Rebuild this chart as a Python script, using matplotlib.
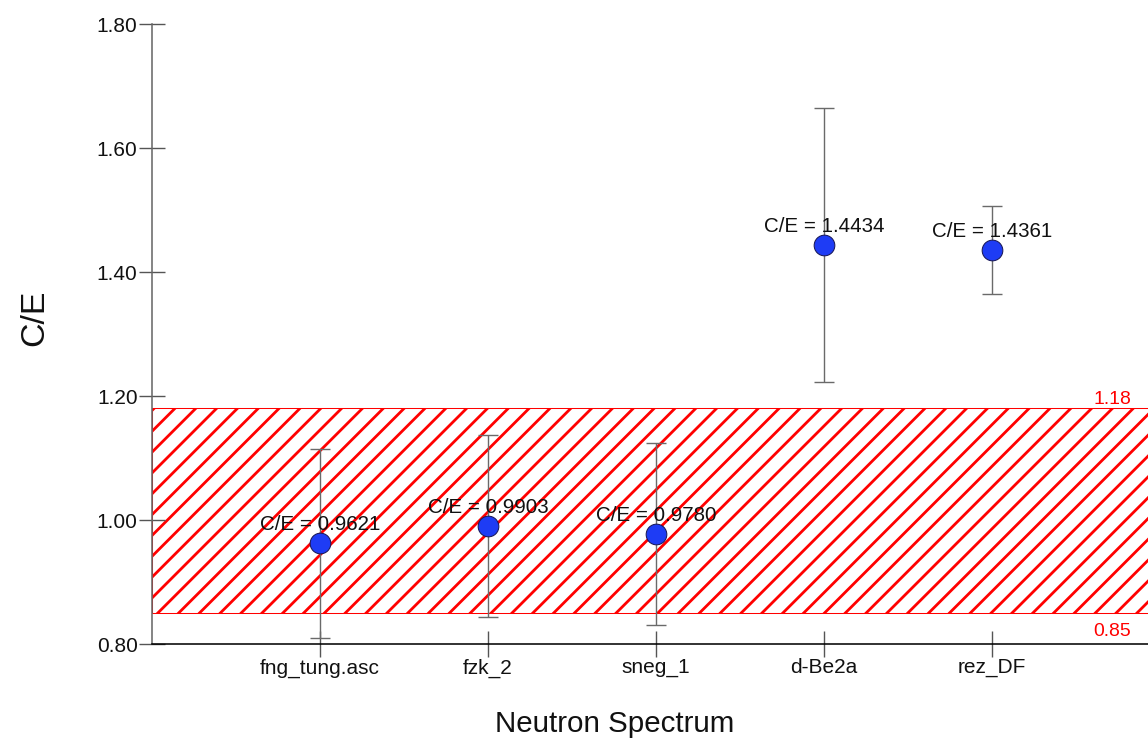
import matplotlib
matplotlib.use("Agg")
import matplotlib.pyplot as plt
from matplotlib.ticker import FormatStrFormatter

# ---- data ----
spectra = ["fng_tung.asc", "fzk_2", "sneg_1", "d-Be2a", "rez_DF"]
ce_values = [0.9621, 0.9903, 0.9780, 1.4434, 1.4361]
ce_errors = [0.152, 0.147, 0.147, 0.221, 0.071]
band_low, band_high = 0.85, 1.18
yticks = [0.80, 1.00, 1.20, 1.40, 1.60, 1.80]

DPI = 125
plt.rcParams['font.family'] = ['Liberation Sans', 'DejaVu Sans']
plt.rcParams['hatch.linewidth'] = 1.6

fig = plt.figure(figsize=(1148 / DPI, 744 / DPI), dpi=DPI)
ax = fig.add_axes([152 / 1148, 100 / 744, 1008 / 1148, 620 / 744])

xpos = list(range(1, len(spectra) + 1))

# acceptance band
ax.axhspan(band_low, band_high, facecolor='none', edgecolor='#ff0000',
           hatch='//', linewidth=0.6, zorder=1)

ax.errorbar(xpos, ce_values, yerr=ce_errors, fmt='none', ecolor='#6a6a6a',
            elinewidth=0.8, capsize=6, capthick=0.8, zorder=2)
ax.plot(xpos, ce_values, 'o', markersize=11.9, markerfacecolor='#1e3cf5',
        markeredgecolor='#1a1a5a', markeredgewidth=0.6, zorder=3,
        linestyle='none')

for x, v in zip(xpos, ce_values):
    ax.annotate(f"C/E = {v:.4f}", xy=(x, v), xytext=(0, 7.5),
                textcoords='offset points', ha='center', va='baseline',
                fontsize=11.8, color='#111111', zorder=4)

ax.annotate(f"{band_high:.2f}", xy=(5.83, band_high), xytext=(0, 2.3),
            textcoords='offset points', ha='right', va='baseline',
            fontsize=11.2, color='#ff0000')
ax.annotate(f"{band_low:.2f}", xy=(5.83, band_low), xytext=(0, -13.2),
            textcoords='offset points', ha='right', va='baseline',
            fontsize=11.2, color='#ff0000')

ax.set_xlim(0, 6)
ax.set_ylim(0.8, 1.8)
ax.set_xticks(xpos)
ax.set_xticklabels(spectra)
ax.set_yticks(yticks)
ax.yaxis.set_major_formatter(FormatStrFormatter('%.2f'))

ax.tick_params(axis='both', direction='inout', length=15, width=0.8,
               color='#555555', labelsize=12, labelcolor='#111111', pad=0.8)

for s in ['top', 'right']:
    ax.spines[s].set_visible(False)
ax.spines['left'].set_color('#666666')
ax.spines['left'].set_linewidth(0.9)
ax.spines['bottom'].set_color('#000000')
ax.spines['bottom'].set_linewidth(0.9)

fig.text(615 / 1148, 1 - 732 / 744, "Neutron Spectrum", ha='center',
         va='baseline', fontsize=17, color='#111111')
fig.text(34.5 / 1148, 1 - 318 / 744, "C/E", rotation=90, ha='center',
         va='center', fontsize=19.5, color='#111111')

fig.savefig("out.png", dpi=DPI)
